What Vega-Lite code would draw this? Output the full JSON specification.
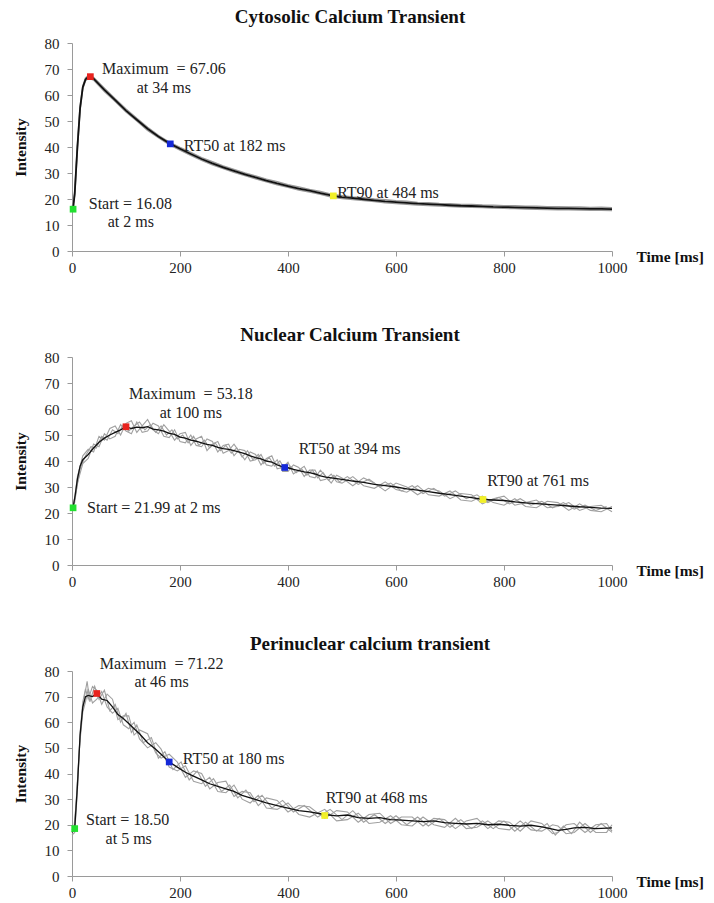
{
  "$schema": "https://vega.github.io/schema/vega-lite/v6.json",
  "padding": {"left": 13, "top": 8, "right": 5, "bottom": 5},
  "background": "white",
  "bounds": "flush",
  "spacing": 106,
  "datasets": {
    "cyto": [
      {"s":"m","t":0,"v":16},{"s":"m","t":2,"v":16.08},{"s":"m","t":5,"v":22},{"s":"m","t":10,"v":40},{"s":"m","t":15,"v":55},{"s":"m","t":20,"v":63},{"s":"m","t":25,"v":66},{"s":"m","t":30,"v":67},{"s":"m","t":34,"v":67.06},{"s":"m","t":40,"v":66.3},{"s":"m","t":60,"v":62},{"s":"m","t":80,"v":58},{"s":"m","t":100,"v":54},{"s":"m","t":120,"v":50.5},{"s":"m","t":140,"v":47},{"s":"m","t":160,"v":44},{"s":"m","t":182,"v":41.2},{"s":"m","t":200,"v":39.3},{"s":"m","t":220,"v":37.3},{"s":"m","t":240,"v":35.4},{"s":"m","t":260,"v":33.7},{"s":"m","t":280,"v":32.2},{"s":"m","t":300,"v":30.8},{"s":"m","t":320,"v":29.5},{"s":"m","t":340,"v":28.3},{"s":"m","t":360,"v":27.1},{"s":"m","t":380,"v":26},{"s":"m","t":400,"v":25},{"s":"m","t":420,"v":24},{"s":"m","t":440,"v":23.2},{"s":"m","t":460,"v":22.3},{"s":"m","t":484,"v":21.2},{"s":"m","t":500,"v":20.7},{"s":"m","t":520,"v":20.3},{"s":"m","t":540,"v":19.9},{"s":"m","t":560,"v":19.5},{"s":"m","t":580,"v":19.1},{"s":"m","t":600,"v":18.8},{"s":"m","t":620,"v":18.5},{"s":"m","t":640,"v":18.2},{"s":"m","t":660,"v":18},{"s":"m","t":680,"v":17.8},{"s":"m","t":700,"v":17.6},{"s":"m","t":720,"v":17.4},{"s":"m","t":740,"v":17.3},{"s":"m","t":760,"v":17.2},{"s":"m","t":780,"v":17},{"s":"m","t":800,"v":16.9},{"s":"m","t":820,"v":16.8},{"s":"m","t":840,"v":16.7},{"s":"m","t":860,"v":16.6},{"s":"m","t":880,"v":16.5},{"s":"m","t":900,"v":16.4},{"s":"m","t":920,"v":16.4},{"s":"m","t":940,"v":16.3},{"s":"m","t":960,"v":16.2},{"s":"m","t":980,"v":16.2},{"s":"m","t":1000,"v":16.1},
      {"s":"g1","t":0,"v":16.3},{"s":"g1","t":5,"v":22.5},{"s":"g1","t":10,"v":40.8},{"s":"g1","t":15,"v":55.6},{"s":"g1","t":20,"v":63.4},{"s":"g1","t":25,"v":66.6},{"s":"g1","t":30,"v":67.5},{"s":"g1","t":40,"v":66.8},{"s":"g1","t":60,"v":62.6},{"s":"g1","t":80,"v":58.5},{"s":"g1","t":100,"v":54.6},{"s":"g1","t":120,"v":51},{"s":"g1","t":140,"v":47.6},{"s":"g1","t":160,"v":44.5},{"s":"g1","t":180,"v":41.9},{"s":"g1","t":200,"v":39.8},{"s":"g1","t":220,"v":37.9},{"s":"g1","t":240,"v":35.9},{"s":"g1","t":260,"v":34.3},{"s":"g1","t":280,"v":32.7},{"s":"g1","t":300,"v":31.4},{"s":"g1","t":320,"v":30},{"s":"g1","t":340,"v":28.9},{"s":"g1","t":360,"v":27.6},{"s":"g1","t":380,"v":26.6},{"s":"g1","t":400,"v":25.5},{"s":"g1","t":420,"v":24.6},{"s":"g1","t":440,"v":23.7},{"s":"g1","t":460,"v":22.9},{"s":"g1","t":480,"v":21.8},{"s":"g1","t":500,"v":21.3},{"s":"g1","t":520,"v":20.8},{"s":"g1","t":540,"v":20.5},{"s":"g1","t":560,"v":20},{"s":"g1","t":580,"v":19.7},{"s":"g1","t":600,"v":19.3},{"s":"g1","t":620,"v":19.1},{"s":"g1","t":640,"v":18.7},{"s":"g1","t":660,"v":18.6},{"s":"g1","t":680,"v":18.3},{"s":"g1","t":700,"v":18.2},{"s":"g1","t":720,"v":17.9},{"s":"g1","t":740,"v":17.9},{"s":"g1","t":760,"v":17.7},{"s":"g1","t":780,"v":17.6},{"s":"g1","t":800,"v":17.4},{"s":"g1","t":820,"v":17.4},{"s":"g1","t":840,"v":17.2},{"s":"g1","t":860,"v":17.2},{"s":"g1","t":880,"v":17},{"s":"g1","t":900,"v":17},{"s":"g1","t":920,"v":16.9},{"s":"g1","t":940,"v":16.9},{"s":"g1","t":960,"v":16.7},{"s":"g1","t":980,"v":16.8},{"s":"g1","t":1000,"v":16.6},
      {"s":"g2","t":0,"v":15.7},{"s":"g2","t":5,"v":21.4},{"s":"g2","t":10,"v":39.2},{"s":"g2","t":15,"v":54.3},{"s":"g2","t":20,"v":62.5},{"s":"g2","t":25,"v":65.5},{"s":"g2","t":30,"v":66.5},{"s":"g2","t":40,"v":65.8},{"s":"g2","t":60,"v":61.4},{"s":"g2","t":80,"v":57.5},{"s":"g2","t":100,"v":53.5},{"s":"g2","t":120,"v":50},{"s":"g2","t":140,"v":46.4},{"s":"g2","t":160,"v":43.6},{"s":"g2","t":180,"v":40.9},{"s":"g2","t":200,"v":38.8},{"s":"g2","t":220,"v":36.8},{"s":"g2","t":240,"v":34.9},{"s":"g2","t":260,"v":33.2},{"s":"g2","t":280,"v":31.7},{"s":"g2","t":300,"v":30.3},{"s":"g2","t":320,"v":29},{"s":"g2","t":340,"v":27.8},{"s":"g2","t":360,"v":26.6},{"s":"g2","t":380,"v":25.5},{"s":"g2","t":400,"v":24.5},{"s":"g2","t":420,"v":23.5},{"s":"g2","t":440,"v":22.7},{"s":"g2","t":460,"v":21.8},{"s":"g2","t":480,"v":20.8},{"s":"g2","t":500,"v":20.2},{"s":"g2","t":520,"v":19.8},{"s":"g2","t":540,"v":19.4},{"s":"g2","t":560,"v":19},{"s":"g2","t":580,"v":18.6},{"s":"g2","t":600,"v":18.3},{"s":"g2","t":620,"v":18},{"s":"g2","t":640,"v":17.7},{"s":"g2","t":660,"v":17.5},{"s":"g2","t":680,"v":17.3},{"s":"g2","t":700,"v":17.1},{"s":"g2","t":720,"v":16.9},{"s":"g2","t":740,"v":16.8},{"s":"g2","t":760,"v":16.7},{"s":"g2","t":780,"v":16.5},{"s":"g2","t":800,"v":16.4},{"s":"g2","t":820,"v":16.3},{"s":"g2","t":840,"v":16.2},{"s":"g2","t":860,"v":16.1},{"s":"g2","t":880,"v":16},{"s":"g2","t":900,"v":15.9},{"s":"g2","t":920,"v":15.9},{"s":"g2","t":940,"v":15.8},{"s":"g2","t":960,"v":15.7},{"s":"g2","t":980,"v":15.7},{"s":"g2","t":1000,"v":15.6}
    ],
    "nuc": [
      {"s":"m","t":0,"v":21.5},{"s":"m","t":2,"v":21.99},{"s":"m","t":6,"v":27},{"s":"m","t":10,"v":33},{"s":"m","t":15,"v":38},{"s":"m","t":20,"v":40.5},{"s":"m","t":30,"v":42.5},{"s":"m","t":40,"v":45},{"s":"m","t":50,"v":47.2},{"s":"m","t":60,"v":48.8},{"s":"m","t":70,"v":50},{"s":"m","t":80,"v":51},{"s":"m","t":90,"v":52},{"s":"m","t":100,"v":53.18},{"s":"m","t":110,"v":52.5},{"s":"m","t":120,"v":53},{"s":"m","t":130,"v":52.8},{"s":"m","t":140,"v":53.2},{"s":"m","t":150,"v":52.3},{"s":"m","t":160,"v":52},{"s":"m","t":170,"v":51.5},{"s":"m","t":180,"v":50.6},{"s":"m","t":190,"v":50.2},{"s":"m","t":200,"v":49.2},{"s":"m","t":210,"v":48.8},{"s":"m","t":220,"v":48},{"s":"m","t":230,"v":47.6},{"s":"m","t":240,"v":47},{"s":"m","t":250,"v":46.4},{"s":"m","t":260,"v":46},{"s":"m","t":270,"v":45.2},{"s":"m","t":280,"v":44.8},{"s":"m","t":290,"v":44.5},{"s":"m","t":300,"v":44},{"s":"m","t":310,"v":43.4},{"s":"m","t":320,"v":42.8},{"s":"m","t":330,"v":42},{"s":"m","t":340,"v":41.3},{"s":"m","t":350,"v":40.8},{"s":"m","t":360,"v":40},{"s":"m","t":370,"v":39.6},{"s":"m","t":380,"v":38.5},{"s":"m","t":394,"v":37.5},{"s":"m","t":400,"v":37.4},{"s":"m","t":410,"v":36.8},{"s":"m","t":420,"v":36.3},{"s":"m","t":430,"v":35.8},{"s":"m","t":440,"v":35.5},{"s":"m","t":450,"v":35},{"s":"m","t":460,"v":34.3},{"s":"m","t":470,"v":33.8},{"s":"m","t":480,"v":33.5},{"s":"m","t":490,"v":33.2},{"s":"m","t":500,"v":32.9},{"s":"m","t":520,"v":32.3},{"s":"m","t":540,"v":31.8},{"s":"m","t":560,"v":31},{"s":"m","t":580,"v":30.5},{"s":"m","t":600,"v":30},{"s":"m","t":620,"v":29.3},{"s":"m","t":640,"v":28.8},{"s":"m","t":660,"v":28.2},{"s":"m","t":680,"v":27.6},{"s":"m","t":700,"v":27.1},{"s":"m","t":720,"v":26.5},{"s":"m","t":740,"v":25.9},{"s":"m","t":761,"v":25.2},{"s":"m","t":780,"v":25},{"s":"m","t":800,"v":24.8},{"s":"m","t":820,"v":24.3},{"s":"m","t":840,"v":23.9},{"s":"m","t":860,"v":23.6},{"s":"m","t":880,"v":23.3},{"s":"m","t":900,"v":23},{"s":"m","t":920,"v":22.7},{"s":"m","t":940,"v":22.4},{"s":"m","t":960,"v":22.2},{"s":"m","t":980,"v":21.9},{"s":"m","t":1000,"v":21.8},
      {"s":"n1","t":0,"v":21},{"s":"n1","t":5,"v":26},{"s":"n1","t":10,"v":34},{"s":"n1","t":20,"v":42},{"s":"n1","t":30,"v":44.5},{"s":"n1","t":40,"v":43.5},{"s":"n1","t":50,"v":49.5},{"s":"n1","t":60,"v":48},{"s":"n1","t":70,"v":52.5},{"s":"n1","t":80,"v":53.5},{"s":"n1","t":90,"v":50},{"s":"n1","t":100,"v":54.5},{"s":"n1","t":110,"v":55.5},{"s":"n1","t":120,"v":51},{"s":"n1","t":130,"v":53.5},{"s":"n1","t":140,"v":56},{"s":"n1","t":150,"v":52},{"s":"n1","t":160,"v":50.5},{"s":"n1","t":170,"v":54},{"s":"n1","t":180,"v":51.5},{"s":"n1","t":190,"v":48},{"s":"n1","t":200,"v":50.5},{"s":"n1","t":210,"v":51},{"s":"n1","t":220,"v":46},{"s":"n1","t":230,"v":48.5},{"s":"n1","t":240,"v":49.5},{"s":"n1","t":250,"v":44},{"s":"n1","t":260,"v":46.5},{"s":"n1","t":270,"v":47.5},{"s":"n1","t":280,"v":43},{"s":"n1","t":290,"v":44},{"s":"n1","t":300,"v":46.5},{"s":"n1","t":310,"v":43.5},{"s":"n1","t":320,"v":40.5},{"s":"n1","t":330,"v":43.5},{"s":"n1","t":340,"v":42.5},{"s":"n1","t":350,"v":38.5},{"s":"n1","t":360,"v":41},{"s":"n1","t":370,"v":42},{"s":"n1","t":380,"v":37},{"s":"n1","t":390,"v":37.5},{"s":"n1","t":400,"v":39.5},{"s":"n1","t":410,"v":35},{"s":"n1","t":420,"v":36.5},{"s":"n1","t":430,"v":38},{"s":"n1","t":440,"v":34},{"s":"n1","t":450,"v":33.5},{"s":"n1","t":460,"v":36.5},{"s":"n1","t":470,"v":34},{"s":"n1","t":480,"v":31.5},{"s":"n1","t":490,"v":34.5},{"s":"n1","t":500,"v":33.5},{"s":"n1","t":520,"v":30.5},{"s":"n1","t":540,"v":33.5},{"s":"n1","t":560,"v":31.5},{"s":"n1","t":580,"v":28.5},{"s":"n1","t":600,"v":31.5},{"s":"n1","t":620,"v":30},{"s":"n1","t":640,"v":27},{"s":"n1","t":660,"v":29.5},{"s":"n1","t":680,"v":28.5},{"s":"n1","t":700,"v":25.5},{"s":"n1","t":720,"v":27.5},{"s":"n1","t":740,"v":27},{"s":"n1","t":760,"v":23.5},{"s":"n1","t":780,"v":25.5},{"s":"n1","t":800,"v":26.5},{"s":"n1","t":820,"v":23},{"s":"n1","t":840,"v":24},{"s":"n1","t":860,"v":25},{"s":"n1","t":880,"v":22},{"s":"n1","t":900,"v":22.5},{"s":"n1","t":920,"v":24},{"s":"n1","t":940,"v":21},{"s":"n1","t":960,"v":22.5},{"s":"n1","t":980,"v":23},{"s":"n1","t":1000,"v":20.5},
      {"s":"n2","t":0,"v":22},{"s":"n2","t":5,"v":24},{"s":"n2","t":10,"v":31.5},{"s":"n2","t":20,"v":39},{"s":"n2","t":30,"v":41},{"s":"n2","t":40,"v":46.5},{"s":"n2","t":50,"v":45.5},{"s":"n2","t":60,"v":50.5},{"s":"n2","t":70,"v":48.5},{"s":"n2","t":80,"v":49.5},{"s":"n2","t":90,"v":54},{"s":"n2","t":100,"v":51.5},{"s":"n2","t":110,"v":50.5},{"s":"n2","t":120,"v":55},{"s":"n2","t":130,"v":51},{"s":"n2","t":140,"v":51.5},{"s":"n2","t":150,"v":54.5},{"s":"n2","t":160,"v":53.5},{"s":"n2","t":170,"v":49.5},{"s":"n2","t":180,"v":49},{"s":"n2","t":190,"v":52},{"s":"n2","t":200,"v":47.5},{"s":"n2","t":210,"v":47},{"s":"n2","t":220,"v":50},{"s":"n2","t":230,"v":46},{"s":"n2","t":240,"v":45.5},{"s":"n2","t":250,"v":48.5},{"s":"n2","t":260,"v":47.5},{"s":"n2","t":270,"v":43.5},{"s":"n2","t":280,"v":46},{"s":"n2","t":290,"v":46.5},{"s":"n2","t":300,"v":42},{"s":"n2","t":310,"v":44.5},{"s":"n2","t":320,"v":44},{"s":"n2","t":330,"v":40},{"s":"n2","t":340,"v":40.5},{"s":"n2","t":350,"v":42.5},{"s":"n2","t":360,"v":38.5},{"s":"n2","t":370,"v":38},{"s":"n2","t":380,"v":40.5},{"s":"n2","t":390,"v":36},{"s":"n2","t":400,"v":36},{"s":"n2","t":410,"v":38.5},{"s":"n2","t":420,"v":37.5},{"s":"n2","t":430,"v":34},{"s":"n2","t":440,"v":36.5},{"s":"n2","t":450,"v":36.5},{"s":"n2","t":460,"v":32.5},{"s":"n2","t":470,"v":33},{"s":"n2","t":480,"v":35},{"s":"n2","t":490,"v":32},{"s":"n2","t":500,"v":31.5},{"s":"n2","t":520,"v":34},{"s":"n2","t":540,"v":30.5},{"s":"n2","t":560,"v":29.5},{"s":"n2","t":580,"v":32},{"s":"n2","t":600,"v":29},{"s":"n2","t":620,"v":28},{"s":"n2","t":640,"v":30.5},{"s":"n2","t":660,"v":27},{"s":"n2","t":680,"v":26.5},{"s":"n2","t":700,"v":28.5},{"s":"n2","t":720,"v":25},{"s":"n2","t":740,"v":24.5},{"s":"n2","t":760,"v":26.5},{"s":"n2","t":780,"v":24},{"s":"n2","t":800,"v":23},{"s":"n2","t":820,"v":25.5},{"s":"n2","t":840,"v":22.5},{"s":"n2","t":860,"v":22},{"s":"n2","t":880,"v":24.5},{"s":"n2","t":900,"v":24},{"s":"n2","t":920,"v":21},{"s":"n2","t":940,"v":23.5},{"s":"n2","t":960,"v":21},{"s":"n2","t":980,"v":20.5},{"s":"n2","t":1000,"v":22.5},
      {"s":"n3","t":5,"v":25},{"s":"n3","t":15,"v":37},{"s":"n3","t":25,"v":42},{"s":"n3","t":35,"v":45.5},{"s":"n3","t":45,"v":45},{"s":"n3","t":55,"v":49.5},{"s":"n3","t":65,"v":48},{"s":"n3","t":75,"v":52},{"s":"n3","t":85,"v":50.5},{"s":"n3","t":95,"v":54},{"s":"n3","t":105,"v":51.5},{"s":"n3","t":115,"v":53.5},{"s":"n3","t":125,"v":55},{"s":"n3","t":135,"v":52},{"s":"n3","t":145,"v":54},{"s":"n3","t":155,"v":51},{"s":"n3","t":165,"v":53.5},{"s":"n3","t":175,"v":50},{"s":"n3","t":185,"v":52},{"s":"n3","t":195,"v":48.5},{"s":"n3","t":205,"v":50},{"s":"n3","t":215,"v":47},{"s":"n3","t":225,"v":49.5},{"s":"n3","t":235,"v":46},{"s":"n3","t":245,"v":48},{"s":"n3","t":255,"v":45},{"s":"n3","t":265,"v":47},{"s":"n3","t":275,"v":44},{"s":"n3","t":285,"v":46},{"s":"n3","t":295,"v":43},{"s":"n3","t":305,"v":45},{"s":"n3","t":315,"v":41.5},{"s":"n3","t":325,"v":44},{"s":"n3","t":335,"v":40.5},{"s":"n3","t":345,"v":42.5},{"s":"n3","t":355,"v":39},{"s":"n3","t":365,"v":41.5},{"s":"n3","t":375,"v":38},{"s":"n3","t":385,"v":40},{"s":"n3","t":395,"v":36.5},{"s":"n3","t":405,"v":38},{"s":"n3","t":415,"v":35.5},{"s":"n3","t":425,"v":37},{"s":"n3","t":435,"v":34.5},{"s":"n3","t":445,"v":36.5},{"s":"n3","t":455,"v":33.5},{"s":"n3","t":465,"v":35.5},{"s":"n3","t":475,"v":32.5},{"s":"n3","t":485,"v":34.5},{"s":"n3","t":495,"v":32},{"s":"n3","t":510,"v":34},{"s":"n3","t":530,"v":31},{"s":"n3","t":550,"v":33},{"s":"n3","t":570,"v":30},{"s":"n3","t":590,"v":31.5},{"s":"n3","t":610,"v":28.5},{"s":"n3","t":630,"v":30.5},{"s":"n3","t":650,"v":27.5},{"s":"n3","t":670,"v":29.5},{"s":"n3","t":690,"v":26.5},{"s":"n3","t":710,"v":28.5},{"s":"n3","t":730,"v":25.5},{"s":"n3","t":750,"v":27},{"s":"n3","t":770,"v":24},{"s":"n3","t":790,"v":26},{"s":"n3","t":810,"v":23.5},{"s":"n3","t":830,"v":25.5},{"s":"n3","t":850,"v":23},{"s":"n3","t":870,"v":24.5},{"s":"n3","t":890,"v":22},{"s":"n3","t":910,"v":24},{"s":"n3","t":930,"v":21.5},{"s":"n3","t":950,"v":23},{"s":"n3","t":970,"v":21},{"s":"n3","t":990,"v":22.5}
    ],
    "peri": [
      {"s":"m","t":0,"v":17},{"s":"m","t":5,"v":18.5},{"s":"m","t":10,"v":35},{"s":"m","t":15,"v":55},{"s":"m","t":20,"v":66},{"s":"m","t":25,"v":70},{"s":"m","t":30,"v":70.5},{"s":"m","t":38,"v":70},{"s":"m","t":46,"v":71.22},{"s":"m","t":55,"v":69},{"s":"m","t":65,"v":68.5},{"s":"m","t":75,"v":66},{"s":"m","t":85,"v":63},{"s":"m","t":95,"v":61.5},{"s":"m","t":105,"v":59.5},{"s":"m","t":115,"v":57.5},{"s":"m","t":125,"v":55.5},{"s":"m","t":140,"v":52},{"s":"m","t":155,"v":49.5},{"s":"m","t":165,"v":47.5},{"s":"m","t":180,"v":44.5},{"s":"m","t":195,"v":42.5},{"s":"m","t":210,"v":40.5},{"s":"m","t":225,"v":39},{"s":"m","t":240,"v":37.5},{"s":"m","t":255,"v":36},{"s":"m","t":270,"v":35},{"s":"m","t":285,"v":34},{"s":"m","t":300,"v":33},{"s":"m","t":315,"v":31.5},{"s":"m","t":330,"v":30.5},{"s":"m","t":345,"v":29.5},{"s":"m","t":360,"v":28.5},{"s":"m","t":380,"v":27.5},{"s":"m","t":400,"v":26.5},{"s":"m","t":420,"v":25.5},{"s":"m","t":440,"v":25},{"s":"m","t":468,"v":24},{"s":"m","t":490,"v":23.5},{"s":"m","t":510,"v":23.8},{"s":"m","t":530,"v":22.8},{"s":"m","t":550,"v":22.5},{"s":"m","t":570,"v":22.8},{"s":"m","t":590,"v":22},{"s":"m","t":610,"v":21.8},{"s":"m","t":630,"v":21.5},{"s":"m","t":650,"v":21.2},{"s":"m","t":670,"v":21.5},{"s":"m","t":690,"v":20.8},{"s":"m","t":710,"v":20.5},{"s":"m","t":730,"v":20.3},{"s":"m","t":750,"v":20.5},{"s":"m","t":770,"v":20},{"s":"m","t":790,"v":20.2},{"s":"m","t":810,"v":19.8},{"s":"m","t":830,"v":19.5},{"s":"m","t":850,"v":19.8},{"s":"m","t":870,"v":19.2},{"s":"m","t":890,"v":18.3},{"s":"m","t":900,"v":17.8},{"s":"m","t":915,"v":18.2},{"s":"m","t":930,"v":18.8},{"s":"m","t":950,"v":19},{"s":"m","t":970,"v":18.5},{"s":"m","t":990,"v":18.7},{"s":"m","t":1000,"v":18.8},
      {"s":"p1","t":0,"v":16},{"s":"p1","t":5,"v":17},{"s":"p1","t":10,"v":33},{"s":"p1","t":15,"v":56},{"s":"p1","t":20,"v":68},{"s":"p1","t":25,"v":73},{"s":"p1","t":30,"v":69},{"s":"p1","t":38,"v":74},{"s":"p1","t":46,"v":72.5},{"s":"p1","t":55,"v":67},{"s":"p1","t":65,"v":71},{"s":"p1","t":75,"v":69},{"s":"p1","t":85,"v":61},{"s":"p1","t":95,"v":62.5},{"s":"p1","t":105,"v":62.5},{"s":"p1","t":115,"v":55},{"s":"p1","t":125,"v":57},{"s":"p1","t":140,"v":55.5},{"s":"p1","t":155,"v":48},{"s":"p1","t":165,"v":46},{"s":"p1","t":180,"v":47.5},{"s":"p1","t":195,"v":44.5},{"s":"p1","t":210,"v":38.5},{"s":"p1","t":225,"v":41},{"s":"p1","t":240,"v":40},{"s":"p1","t":255,"v":34},{"s":"p1","t":270,"v":36.5},{"s":"p1","t":285,"v":37},{"s":"p1","t":300,"v":31},{"s":"p1","t":315,"v":33},{"s":"p1","t":330,"v":32.5},{"s":"p1","t":345,"v":27.5},{"s":"p1","t":360,"v":30.5},{"s":"p1","t":380,"v":29.5},{"s":"p1","t":400,"v":25},{"s":"p1","t":420,"v":27.5},{"s":"p1","t":440,"v":27},{"s":"p1","t":468,"v":22.5},{"s":"p1","t":490,"v":25.5},{"s":"p1","t":510,"v":25},{"s":"p1","t":530,"v":21},{"s":"p1","t":550,"v":24},{"s":"p1","t":570,"v":24.5},{"s":"p1","t":590,"v":20.5},{"s":"p1","t":610,"v":23},{"s":"p1","t":630,"v":23},{"s":"p1","t":650,"v":19.5},{"s":"p1","t":670,"v":22.5},{"s":"p1","t":690,"v":22},{"s":"p1","t":710,"v":18.5},{"s":"p1","t":730,"v":21.5},{"s":"p1","t":750,"v":22.5},{"s":"p1","t":770,"v":18.5},{"s":"p1","t":790,"v":21.5},{"s":"p1","t":810,"v":21},{"s":"p1","t":830,"v":17.5},{"s":"p1","t":850,"v":21.5},{"s":"p1","t":870,"v":20.5},{"s":"p1","t":890,"v":16.5},{"s":"p1","t":900,"v":17},{"s":"p1","t":915,"v":20},{"s":"p1","t":930,"v":20.5},{"s":"p1","t":950,"v":17},{"s":"p1","t":970,"v":20},{"s":"p1","t":990,"v":20.5},{"s":"p1","t":1000,"v":17.5},
      {"s":"p2","t":0,"v":18},{"s":"p2","t":5,"v":20},{"s":"p2","t":10,"v":37},{"s":"p2","t":15,"v":53},{"s":"p2","t":20,"v":64},{"s":"p2","t":25,"v":68},{"s":"p2","t":30,"v":73},{"s":"p2","t":38,"v":67.5},{"s":"p2","t":46,"v":69},{"s":"p2","t":55,"v":72},{"s":"p2","t":65,"v":66},{"s":"p2","t":75,"v":63.5},{"s":"p2","t":85,"v":65.5},{"s":"p2","t":95,"v":59},{"s":"p2","t":105,"v":57.5},{"s":"p2","t":115,"v":60},{"s":"p2","t":125,"v":53.5},{"s":"p2","t":140,"v":50},{"s":"p2","t":155,"v":52},{"s":"p2","t":165,"v":49.5},{"s":"p2","t":180,"v":42.5},{"s":"p2","t":195,"v":41},{"s":"p2","t":210,"v":43},{"s":"p2","t":225,"v":37},{"s":"p2","t":240,"v":36},{"s":"p2","t":255,"v":38.5},{"s":"p2","t":270,"v":33},{"s":"p2","t":285,"v":32.5},{"s":"p2","t":300,"v":35.5},{"s":"p2","t":315,"v":30},{"s":"p2","t":330,"v":28.5},{"s":"p2","t":345,"v":31.5},{"s":"p2","t":360,"v":26.5},{"s":"p2","t":380,"v":26},{"s":"p2","t":400,"v":28.5},{"s":"p2","t":420,"v":24},{"s":"p2","t":440,"v":23},{"s":"p2","t":468,"v":26},{"s":"p2","t":490,"v":21.5},{"s":"p2","t":510,"v":22},{"s":"p2","t":530,"v":24.5},{"s":"p2","t":550,"v":20.5},{"s":"p2","t":570,"v":21},{"s":"p2","t":590,"v":23.5},{"s":"p2","t":610,"v":20},{"s":"p2","t":630,"v":19.5},{"s":"p2","t":650,"v":23},{"s":"p2","t":670,"v":20},{"s":"p2","t":690,"v":19},{"s":"p2","t":710,"v":22.5},{"s":"p2","t":730,"v":18.5},{"s":"p2","t":750,"v":19},{"s":"p2","t":770,"v":21.5},{"s":"p2","t":790,"v":18.5},{"s":"p2","t":810,"v":18},{"s":"p2","t":830,"v":21.5},{"s":"p2","t":850,"v":18},{"s":"p2","t":870,"v":17.5},{"s":"p2","t":890,"v":20},{"s":"p2","t":900,"v":19.5},{"s":"p2","t":915,"v":16.5},{"s":"p2","t":930,"v":17},{"s":"p2","t":950,"v":20.5},{"s":"p2","t":970,"v":17},{"s":"p2","t":990,"v":17},{"s":"p2","t":1000,"v":20},
      {"s":"p3","t":3,"v":17.5},{"s":"p3","t":8,"v":29},{"s":"p3","t":13,"v":48},{"s":"p3","t":18,"v":62},{"s":"p3","t":23,"v":70},{"s":"p3","t":28,"v":76},{"s":"p3","t":33,"v":68},{"s":"p3","t":42,"v":74},{"s":"p3","t":50,"v":69},{"s":"p3","t":60,"v":72.5},{"s":"p3","t":70,"v":64.5},{"s":"p3","t":80,"v":67},{"s":"p3","t":90,"v":60},{"s":"p3","t":100,"v":63.5},{"s":"p3","t":110,"v":56},{"s":"p3","t":120,"v":59},{"s":"p3","t":132,"v":52},{"s":"p3","t":147,"v":54},{"s":"p3","t":160,"v":46},{"s":"p3","t":172,"v":48.5},{"s":"p3","t":187,"v":41.5},{"s":"p3","t":202,"v":44.5},{"s":"p3","t":217,"v":37.5},{"s":"p3","t":232,"v":41},{"s":"p3","t":247,"v":35},{"s":"p3","t":262,"v":38},{"s":"p3","t":277,"v":33},{"s":"p3","t":292,"v":35.5},{"s":"p3","t":307,"v":30.5},{"s":"p3","t":322,"v":33.5},{"s":"p3","t":337,"v":29},{"s":"p3","t":352,"v":31.5},{"s":"p3","t":370,"v":26.5},{"s":"p3","t":390,"v":29.5},{"s":"p3","t":410,"v":25},{"s":"p3","t":430,"v":27.5},{"s":"p3","t":455,"v":23},{"s":"p3","t":478,"v":26},{"s":"p3","t":500,"v":22},{"s":"p3","t":520,"v":25.5},{"s":"p3","t":540,"v":21},{"s":"p3","t":560,"v":24},{"s":"p3","t":580,"v":20.5},{"s":"p3","t":600,"v":23.5},{"s":"p3","t":620,"v":20},{"s":"p3","t":640,"v":23},{"s":"p3","t":660,"v":19.5},{"s":"p3","t":680,"v":22.5},{"s":"p3","t":700,"v":19},{"s":"p3","t":720,"v":22},{"s":"p3","t":740,"v":18.5},{"s":"p3","t":760,"v":21.5},{"s":"p3","t":780,"v":18.5},{"s":"p3","t":800,"v":21.5},{"s":"p3","t":820,"v":17.5},{"s":"p3","t":840,"v":21},{"s":"p3","t":860,"v":17.5},{"s":"p3","t":880,"v":20.5},{"s":"p3","t":895,"v":16},{"s":"p3","t":910,"v":19.5},{"s":"p3","t":925,"v":16.5},{"s":"p3","t":940,"v":21},{"s":"p3","t":960,"v":17},{"s":"p3","t":980,"v":20.5},{"s":"p3","t":1000,"v":17}
    ],
    "marks": [
      {"p":1,"k":"Start","t":2,"v":16.08},{"p":1,"k":"Max","t":34,"v":67.06},{"p":1,"k":"RT50","t":182,"v":41.2},{"p":1,"k":"RT90","t":484,"v":21.2},
      {"p":2,"k":"Start","t":2,"v":21.99},{"p":2,"k":"Max","t":100,"v":53.18},{"p":2,"k":"RT50","t":394,"v":37.5},{"p":2,"k":"RT90","t":761,"v":25.2},
      {"p":3,"k":"Start","t":5,"v":18.5},{"p":3,"k":"Max","t":46,"v":71.22},{"p":3,"k":"RT50","t":180,"v":44.5},{"p":3,"k":"RT90","t":468,"v":23.6}
    ],
    "notes": [
      {"p":1,"a":"c","t":170,"v":70,"txt":"Maximum \u00a0= 67.06"},{"p":1,"a":"c","t":170,"v":62.7,"txt":"at 34 ms"},{"p":1,"a":"c","t":109,"v":11.2,"txt":"at 2 ms"},
      {"p":1,"a":"l","t":207,"v":40.4,"txt":"RT50 at 182 ms"},{"p":1,"a":"l","t":491,"v":22.3,"txt":"RT90 at 484 ms"},{"p":1,"a":"l","t":31,"v":18.1,"txt":"Start = 16.08"},
      {"p":2,"a":"c","t":220,"v":65.8,"txt":"Maximum \u00a0= 53.18"},{"p":2,"a":"c","t":220,"v":58.5,"txt":"at 100 ms"},
      {"p":2,"a":"l","t":420,"v":44.6,"txt":"RT50 at 394 ms"},{"p":2,"a":"l","t":769,"v":32.3,"txt":"RT90 at 761 ms"},{"p":2,"a":"l","t":28,"v":21.9,"txt":"Start = 21.99 at 2 ms"},
      {"p":3,"a":"c","t":166,"v":82.7,"txt":"Maximum \u00a0= 71.22"},{"p":3,"a":"c","t":166,"v":75.7,"txt":"at 46 ms"},{"p":3,"a":"c","t":105,"v":14.4,"txt":"at 5 ms"},
      {"p":3,"a":"l","t":205,"v":45.7,"txt":"RT50 at 180 ms"},{"p":3,"a":"l","t":470,"v":30.4,"txt":"RT90 at 468 ms"},{"p":3,"a":"l","t":26,"v":21.9,"txt":"Start = 18.50"}
    ]
  },
  "vconcat": [
    {
      "width": 540, "height": 208,
      "title": {"text": "Cytosolic Calcium Transient", "offset": 9, "dx": 8},
      "encoding": {
        "x": {"field": "t", "type": "quantitative", "scale": {"domain": [0, 1000]}, "axis": {"values": [0,200,400,600,800,1000], "format": "d", "labelPadding": 4, "title": "Time [ms]", "titleX": 564, "titleY": 5, "titleAlign": "left", "titleBaseline": "middle", "titleAnchor": null}},
        "y": {"field": "v", "type": "quantitative", "scale": {"domain": [0, 80]}, "axis": {"values": [0,10,20,30,40,50,60,70,80], "tickCount": 9, "title": "Intensity"}}
      },
      "layer": [
        {"data": {"name": "cyto"}, "transform": [{"filter": "datum.s != 'm'"}], "mark": {"type": "line", "color": "#9a9a9a", "strokeWidth": 1.5}, "encoding": {"detail": {"field": "s"}}},
        {"data": {"name": "cyto"}, "transform": [{"filter": "datum.s == 'm'"}], "mark": {"type": "line", "color": "#111", "strokeWidth": 1.8}, "encoding": {}},
        {"data": {"name": "marks"}, "transform": [{"filter": "datum.p == 1"}], "mark": {"type": "point", "shape": "square", "filled": true, "size": 45, "opacity": 1}, "encoding": {"color": {"field": "k", "type": "nominal", "scale": {"domain": ["Start","Max","RT50","RT90"], "range": ["#22e030","#e8231e","#1428d8","#f2f028"]}, "legend": null}}},
        {"data": {"name": "notes"}, "transform": [{"filter": "datum.p == 1 && datum.a == 'c'"}], "mark": {"type": "text", "align": "center", "baseline": "middle", "fontSize": 16, "color": "#222", "font": "Liberation Serif"}, "encoding": {"text": {"field": "txt"}}},
        {"data": {"name": "notes"}, "transform": [{"filter": "datum.p == 1 && datum.a == 'l'"}], "mark": {"type": "text", "align": "left", "baseline": "middle", "fontSize": 16, "color": "#222", "font": "Liberation Serif"}, "encoding": {"text": {"field": "txt"}}}
      ]
    },
    {
      "width": 540, "height": 208,
      "title": {"text": "Nuclear Calcium Transient", "offset": 5, "dx": 8},
      "encoding": {
        "x": {"field": "t", "type": "quantitative", "scale": {"domain": [0, 1000]}, "axis": {"values": [0,200,400,600,800,1000], "format": "d", "labelPadding": 4, "title": "Time [ms]", "titleX": 564, "titleY": 5, "titleAlign": "left", "titleBaseline": "middle", "titleAnchor": null}},
        "y": {"field": "v", "type": "quantitative", "scale": {"domain": [0, 80]}, "axis": {"values": [0,10,20,30,40,50,60,70,80], "tickCount": 9, "title": "Intensity"}}
      },
      "layer": [
        {"data": {"name": "nuc"}, "transform": [{"filter": "datum.s != 'm'"}], "mark": {"type": "line", "color": "#a0a0a0", "strokeWidth": 1.1}, "encoding": {"detail": {"field": "s"}}},
        {"data": {"name": "nuc"}, "transform": [{"filter": "datum.s == 'm'"}], "mark": {"type": "line", "color": "#111", "strokeWidth": 1.3}, "encoding": {}},
        {"data": {"name": "marks"}, "transform": [{"filter": "datum.p == 2"}], "mark": {"type": "point", "shape": "square", "filled": true, "size": 45, "opacity": 1}, "encoding": {"color": {"field": "k", "type": "nominal", "scale": {"domain": ["Start","Max","RT50","RT90"], "range": ["#22e030","#e8231e","#1428d8","#f2f028"]}, "legend": null}}},
        {"data": {"name": "notes"}, "transform": [{"filter": "datum.p == 2 && datum.a == 'c'"}], "mark": {"type": "text", "align": "center", "baseline": "middle", "fontSize": 16, "color": "#222", "font": "Liberation Serif"}, "encoding": {"text": {"field": "txt"}}},
        {"data": {"name": "notes"}, "transform": [{"filter": "datum.p == 2 && datum.a == 'l'"}], "mark": {"type": "text", "align": "left", "baseline": "middle", "fontSize": 16, "color": "#222", "font": "Liberation Serif"}, "encoding": {"text": {"field": "txt"}}}
      ]
    },
    {
      "width": 540, "height": 205,
      "title": {"text": "Perinuclear calcium transient", "offset": 2, "dx": 28},
      "encoding": {
        "x": {"field": "t", "type": "quantitative", "scale": {"domain": [0, 1000]}, "axis": {"values": [0,200,400,600,800,1000], "format": "d", "labelPadding": 4, "title": "Time [ms]", "titleX": 564, "titleY": 5, "titleAlign": "left", "titleBaseline": "middle", "titleAnchor": null}},
        "y": {"field": "v", "type": "quantitative", "scale": {"domain": [0, 80]}, "axis": {"values": [0,10,20,30,40,50,60,70,80], "tickCount": 9, "title": "Intensity"}}
      },
      "layer": [
        {"data": {"name": "peri"}, "transform": [{"filter": "datum.s != 'm'"}], "mark": {"type": "line", "color": "#a0a0a0", "strokeWidth": 1.1}, "encoding": {"detail": {"field": "s"}}},
        {"data": {"name": "peri"}, "transform": [{"filter": "datum.s == 'm'"}], "mark": {"type": "line", "color": "#111", "strokeWidth": 1.3}, "encoding": {}},
        {"data": {"name": "marks"}, "transform": [{"filter": "datum.p == 3"}], "mark": {"type": "point", "shape": "square", "filled": true, "size": 45, "opacity": 1}, "encoding": {"color": {"field": "k", "type": "nominal", "scale": {"domain": ["Start","Max","RT50","RT90"], "range": ["#22e030","#e8231e","#1428d8","#f2f028"]}, "legend": null}}},
        {"data": {"name": "notes"}, "transform": [{"filter": "datum.p == 3 && datum.a == 'c'"}], "mark": {"type": "text", "align": "center", "baseline": "middle", "fontSize": 16, "color": "#222", "font": "Liberation Serif"}, "encoding": {"text": {"field": "txt"}}},
        {"data": {"name": "notes"}, "transform": [{"filter": "datum.p == 3 && datum.a == 'l'"}], "mark": {"type": "text", "align": "left", "baseline": "middle", "fontSize": 16, "color": "#222", "font": "Liberation Serif"}, "encoding": {"text": {"field": "txt"}}}
      ]
    }
  ],
  "config": {
    "font": "Liberation Serif",
    "view": {"stroke": null},
    "text": {"font": "Liberation Serif"},
    "axis": {"grid": false, "domainColor": "#9a9a9a", "tickColor": "#9a9a9a", "tickSize": 5, "labelOverlap": false, "labelFlush": false, "labelFont": "Liberation Serif", "labelFontSize": 15, "labelColor": "#222", "labelPadding": 8, "titleFont": "Liberation Serif", "titleFontSize": 15.5, "titleFontWeight": "bold", "titleColor": "#111", "titlePadding": 16},
    "title": {"font": "Liberation Serif", "fontSize": 19, "fontWeight": "bold", "color": "#111", "anchor": "middle"}
  }
}
